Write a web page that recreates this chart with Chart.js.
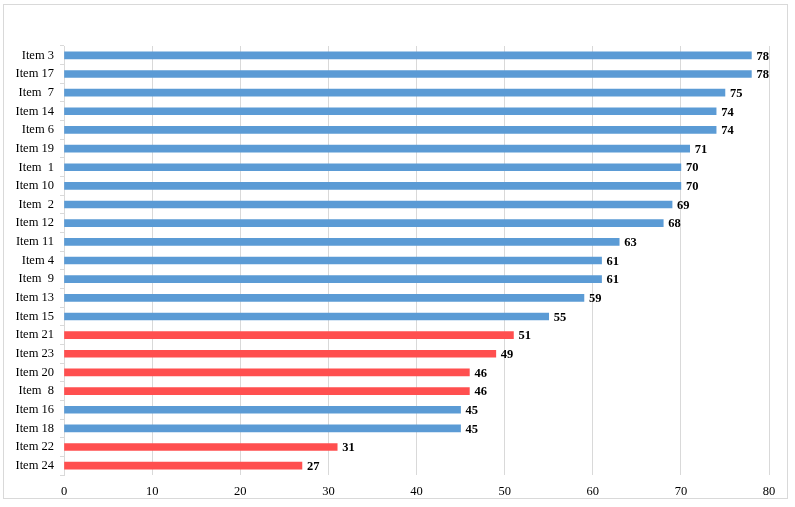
<!DOCTYPE html>
<html>
<head>
<meta charset="utf-8">
<script src="https://cdn.jsdelivr.net/npm/chart.js@4/dist/chart.umd.min.js"></script>
<style>
html,body{margin:0;padding:0;background:#fff;}
#wrap{position:relative;width:795px;height:507px;}
#frame{position:absolute;left:3px;top:4px;width:785px;height:495px;border:1px solid #d9d9d9;box-sizing:border-box;pointer-events:none;}
canvas{position:absolute;left:0;top:0;}
</style>
</head>
<body>
<div id="wrap">
<canvas id="c" width="795" height="507"></canvas>
<div id="frame"></div>
</div>
<script>
const categories = ["Item 3","Item 17","Item  7","Item 14","Item 6","Item 19","Item  1","Item 10","Item  2","Item 12","Item 11","Item 4","Item  9","Item 13","Item 15","Item 21","Item 23","Item 20","Item  8","Item 16","Item 18","Item 22","Item 24"];
const values = [78,78,75,74,74,71,70,70,69,68,63,61,61,59,55,51,49,46,46,45,45,31,27];
const groups = ["b","b","b","b","b","b","b","b","b","b","b","b","b","b","b","r","r","r","r","b","b","r","r"];
const xTicks = [0,10,20,30,40,50,60,70,80];

const BLUE = "#5B9BD5", RED = "#FF4F4F";
const FONT = "'Liberation Serif', 'Times New Roman', serif";

const valueLabels = {
  id: "valueLabels",
  afterDatasetsDraw(chart) {
    const ctx = chart.ctx;
    const meta = chart.getDatasetMeta(0);
    ctx.save();
    ctx.font = "bold 12.5px " + FONT;
    ctx.fillStyle = "#000";
    ctx.textAlign = "left";
    ctx.textBaseline = "middle";
    meta.data.forEach((bar, i) => {
      ctx.fillText(String(values[i]), bar.x + 5, bar.y + 1);
    });
    ctx.restore();
  }
};

new Chart(document.getElementById("c"), {
  type: "bar",
  data: {
    labels: categories,
    datasets: [{
      data: values,
      backgroundColor: groups.map(g => g === "r" ? RED : BLUE),
      borderWidth: 0,
      barThickness: 7
    }]
  },
  options: {
    indexAxis: "y",
    responsive: false,
    animation: false,
    devicePixelRatio: 1,
    layout: { padding: { left: 4, right: 26, top: 46, bottom: 6 } },
    plugins: { legend: { display: false }, tooltip: { enabled: false } },
    scales: {
      x: {
        min: 0, max: 80,
        afterBuildTicks: s => { s.ticks = xTicks.map(v => ({ value: v })); },
        afterFit: s => { s.height = 26; },
        grid: { color: "#d9d9d9", drawTicks: false, lineWidth: 1 },
        border: { display: false },
        ticks: { padding: 9, color: "#000", font: { family: FONT, size: 12.5 } }
      },
      y: {
        afterFit: s => { s.width = 60; },
        grid: { offset: true, drawOnChartArea: false, drawTicks: true, tickLength: 4, color: "#d9d9d9" },
        border: { display: true, color: "#d9d9d9" },
        ticks: { padding: 6, color: "#000", font: { family: FONT, size: 12.5 } }
      }
    }
  },
  plugins: [valueLabels]
});
</script>
</body>
</html>
